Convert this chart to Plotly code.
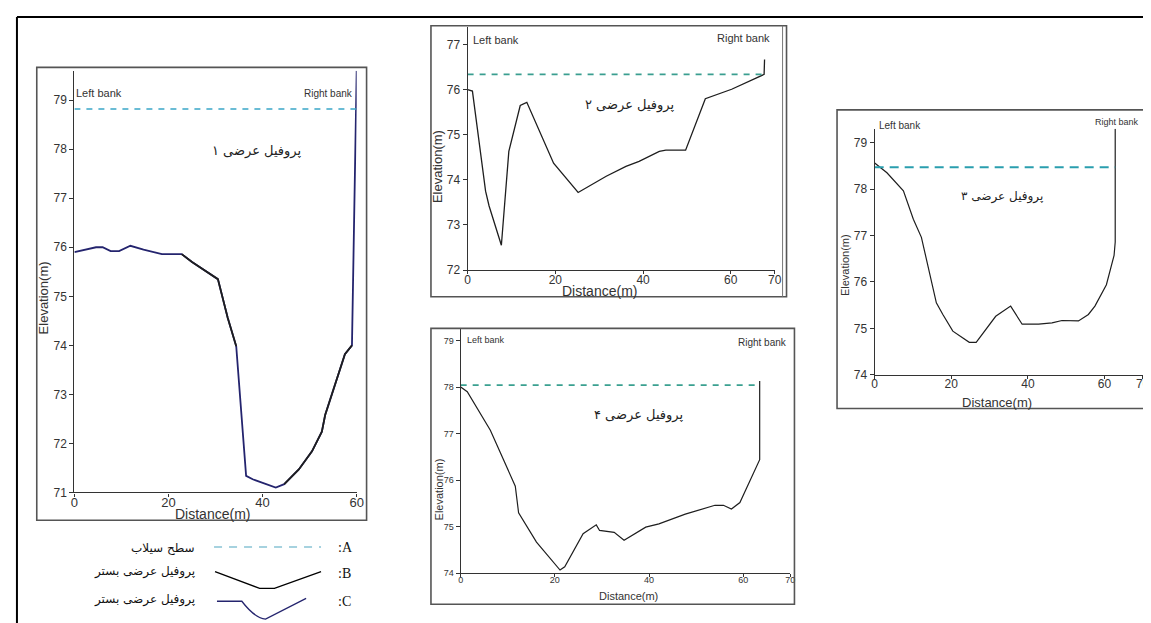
import plotly.graph_objects as go

W, H = 1151, 623

# ---------------- data ----------------
p1_dist = [0, 4.6, 6, 7.7, 9.5, 11.9, 14.7, 18.6, 22.8, 25, 30.5, 32.6, 34.4, 35.4, 36.5, 37.9, 42.8, 44.6, 47.7, 50.5, 52.6, 53.3, 57.5, 59, 60]
p1_elev = [75.9, 76.0, 76.0, 75.92, 75.92, 76.03, 75.95, 75.86, 75.86, 75.7, 75.35, 74.56, 73.98, 72.8, 71.34, 71.27, 71.1, 71.17, 71.47, 71.84, 72.24, 72.58, 73.82, 74.0, 79.6]
p1_flood = 78.82

p2_dist = [0, 1.1, 4.1, 4.9, 7.7, 9.4, 12.0, 13.5, 19.6, 25.2, 31.6, 36.1, 39.1, 43.7, 45.2, 49.7, 54.2, 60.2, 67.6, 67.7]
p2_elev = [76.0, 75.97, 73.75, 73.42, 72.55, 74.63, 75.65, 75.72, 74.37, 73.72, 74.08, 74.3, 74.41, 74.63, 74.66, 74.66, 75.8, 76.01, 76.34, 76.67]
p2_flood = 76.34

p3_dist = [0, 3.2, 7.5, 10.1, 12.2, 16.1, 17.8, 20.4, 24.7, 26.5, 31.6, 35.5, 38.5, 42.8, 46.3, 48.9, 53.2, 55.8, 57.5, 60.5, 62.5, 62.8, 62.8]
p3_elev = [78.56, 78.35, 77.96, 77.35, 76.96, 75.55, 75.3, 74.94, 74.7, 74.7, 75.26, 75.48, 75.09, 75.09, 75.12, 75.17, 75.16, 75.3, 75.48, 75.94, 76.57, 76.86, 79.3]
p3_flood = 78.47

p4_dist = [0, 1.4, 6.3, 11.6, 12.3, 16.1, 21.1, 22.1, 26, 28.8, 29.5, 32.6, 34.7, 39.3, 42.1, 47.7, 54.0, 55.8, 57.5, 59.3, 63.5, 63.5]
p4_elev = [78.0, 77.9, 77.07, 75.87, 75.3, 74.67, 74.07, 74.14, 74.85, 75.04, 74.92, 74.88, 74.71, 74.99, 75.06, 75.27, 75.46, 75.46, 75.38, 75.52, 76.44, 78.13]
p4_flood = 78.04

titles = ["پروفیل عرضی ۱", "پروفیل عرضی ۲", "پروفیل عرضی ۳", "پروفیل عرضی ۴"]
legend_labels = ["سطح سیلاب", "پروفیل عرضی بستر", "پروفیل عرضی بستر"]
legend_keys = [":A", ":B", ":C"]

# ---------------- helpers ----------------
def X(px):
    return px / W

def Y(py):
    return 1 - py / H

fig = go.Figure()

NAVY = "#24246e"
BLACK = "#1e1e1e"

# panel 1 profile: navy base with black overlay segments
fig.add_trace(go.Scatter(x=p1_dist, y=p1_elev, mode="lines", line=dict(color=NAVY, width=1.8),
                         xaxis="x", yaxis="y", showlegend=False, hoverinfo="skip"))
for a, b in [(8, 13), (17, 24)]:
    fig.add_trace(go.Scatter(x=p1_dist[a:b], y=p1_elev[a:b], mode="lines", line=dict(color=BLACK, width=1.8),
                             xaxis="x", yaxis="y", showlegend=False, hoverinfo="skip"))
fig.add_trace(go.Scatter(x=[p1_dist[0], p1_dist[-1]], y=[p1_flood, p1_flood], mode="lines",
                         line=dict(color="#3aa6c8", width=1.6, dash="6px,6px"),
                         xaxis="x", yaxis="y", showlegend=False, hoverinfo="skip"))

# panel 2
fig.add_trace(go.Scatter(x=p2_dist, y=p2_elev, mode="lines", line=dict(color=BLACK, width=1.3),
                         xaxis="x2", yaxis="y2", showlegend=False, hoverinfo="skip"))
fig.add_trace(go.Scatter(x=[0, p2_dist[-2]], y=[p2_flood, p2_flood], mode="lines",
                         line=dict(color="#3a9e90", width=1.6, dash="6px,6px"),
                         xaxis="x2", yaxis="y2", showlegend=False, hoverinfo="skip"))

# panel 3
fig.add_trace(go.Scatter(x=p3_dist, y=p3_elev, mode="lines", line=dict(color=BLACK, width=1.2),
                         xaxis="x3", yaxis="y3", showlegend=False, hoverinfo="skip"))
fig.add_trace(go.Scatter(x=[0, p3_dist[-1]], y=[p3_flood, p3_flood], mode="lines",
                         line=dict(color="#2a9eae", width=2, dash="9px,6px"),
                         xaxis="x3", yaxis="y3", showlegend=False, hoverinfo="skip"))

# panel 4
fig.add_trace(go.Scatter(x=p4_dist, y=p4_elev, mode="lines", line=dict(color=BLACK, width=1.2),
                         xaxis="x4", yaxis="y4", showlegend=False, hoverinfo="skip"))
fig.add_trace(go.Scatter(x=[0, p4_dist[-1]], y=[p4_flood, p4_flood], mode="lines",
                         line=dict(color="#3aa090", width=1.6, dash="6px,6px"),
                         xaxis="x4", yaxis="y4", showlegend=False, hoverinfo="skip"))

def ax(domain, rng, tickvals, size, anchor, is_x):
    d = dict(domain=domain, range=rng, tickvals=tickvals, showline=True, linecolor="#333",
             linewidth=1.2, ticks="outside", ticklen=3 if is_x else 4, tickcolor="#333", showgrid=False,
             zeroline=False, anchor=anchor,
             tickfont=dict(family="Liberation Sans, Arial", size=size, color="#333"))
    if is_x:
        d["ticklabelstandoff"] = -5
    return d

layout = dict(
    width=W, height=H, margin=dict(l=0, r=0, t=0, b=0),
    paper_bgcolor="white", plot_bgcolor="white", showlegend=False,
    xaxis=ax([X(63), X(348)], [0, 60], [0, 20, 40, 60], 13, "y", True),
    yaxis=ax([Y(490), Y(63.4)], [71, 79.6], [71, 72, 73, 74, 75, 76, 77, 78, 79], 12, "x", False),
    xaxis2=ax([X(460), X(770)], [0, 70], [0, 20, 40, 60, 70], 12, "y2", True),
    yaxis2=ax([Y(265), Y(18.8)], [72, 77.4], [72, 73, 74, 75, 76, 77], 12, "x2", False),
    xaxis3=ax([X(871), X(1141.7)], [0, 70], [0, 20, 40, 60, 70], 12, "y3", True),
    yaxis3=ax([Y(371), Y(122)], [74, 79.3], [74, 75, 76, 77, 78, 79], 12, "x3", False),
    xaxis4=ax([X(453), X(785.8)], [0, 70], [0, 20, 40, 60, 70], 9, "y4", True),
    yaxis4=ax([Y(571.7), Y(323.5)], [74, 79.27], [74, 75, 76, 77, 78, 79], 9, "x4", False),
)
fig.update_layout(**layout)

shapes = []
# outer frame
shapes.append(dict(type="line", xref="paper", yref="paper", x0=X(5), x1=1, y0=Y(9), y1=Y(9),
                   line=dict(color="black", width=2)))
shapes.append(dict(type="line", xref="paper", yref="paper", x0=X(5), x1=X(5), y0=Y(9), y1=0,
                   line=dict(color="black", width=2)))
# panel boxes
for (l, t, r, b) in [(25, 60, 358, 518), (423, 18, 782, 292), (833, 103, 1145, 405), (423, 324, 790, 603)]:
    shapes.append(dict(type="rect", xref="paper", yref="paper", x0=X(l), x1=X(r), y0=Y(b), y1=Y(t),
                       line=dict(color="#555", width=1.6)))
shapes.append(dict(type="line", xref="paper", yref="paper", x0=X(778), x1=X(778), y0=Y(292), y1=Y(18),
                   line=dict(color="#777", width=1)))
# legend glyphs
shapes.append(dict(type="line", xref="paper", yref="paper", x0=X(204), x1=X(312), y0=Y(545), y1=Y(545),
                   line=dict(color="#a6d2df", width=2, dash="8px,7px")))
path_b = "M {:.4f},{:.4f} L {:.4f},{:.4f} L {:.4f},{:.4f} L {:.4f},{:.4f}".format(
    X(205), Y(570), X(250), Y(587), X(265), Y(587), X(312), Y(570))
shapes.append(dict(type="path", xref="paper", yref="paper", path=path_b, line=dict(color="black", width=1.3)))
path_c = "M {:.4f},{:.4f} L {:.4f},{:.4f} Q {:.4f},{:.4f} {:.4f},{:.4f} L {:.4f},{:.4f}".format(
    X(207), Y(600), X(232), Y(600), X(245), Y(617), X(256), Y(618), X(297), Y(597))
shapes.append(dict(type="path", xref="paper", yref="paper", path=path_c, line=dict(color=NAVY, width=1.3)))
fig.update_layout(shapes=shapes)

ann = []
def txt(text, px, py, size, xa="center", ya="middle", angle=0, family="Liberation Sans, Arial", color="#333"):
    ann.append(dict(text=text, x=X(px), y=Y(py), xref="paper", yref="paper", showarrow=False,
                    xanchor=xa, yanchor=ya, textangle=angle, font=dict(family=family, size=size, color=color)))

# axis titles
txt("Elevation(m)", 32, 293, 13, angle=-90)
txt("Distance(m)", 202, 512, 14)
txt("Elevation(m)", 429, 160, 13, angle=-90)
txt("Distance(m)", 593, 286, 14)
txt("Elevation(m)", 841, 260, 11, angle=-90)
txt("Distance(m)", 995, 399, 13)
txt("Elevation(m)", 431, 487, 11, angle=-90)
txt("Distance(m)", 622, 595, 11)
# banks
txt("Left bank", 63, 86, 11, xa="left")
txt("Right bank", 346, 86, 10, xa="right")
txt("Left bank", 463, 32, 11, xa="left")
txt("Right bank", 767, 30, 11, xa="right")
txt("Left bank", 873, 119, 10, xa="left")
txt("Right bank", 1140, 115, 9, xa="right")
txt("Left bank", 457, 336, 9, xa="left")
txt("Right bank", 785, 338, 10, xa="right")
# persian titles
ser = "DejaVu Sans"
txt(titles[0], 247, 145, 13, family=ser, color="#222")
txt(titles[1], 623, 98, 13, family=ser, color="#222")
txt(titles[2], 1000, 191, 12, family=ser, color="#222")
txt(titles[3], 633, 412, 13, family=ser, color="#222")
# legend text
for i, py in enumerate([546, 572, 600]):
    txt(legend_keys[i], 327, py, 14, xa="left", family="Liberation Serif", color="#111")
    txt(legend_labels[i], 187, py - (2 if i else 0), 12, xa="right", family=ser, color="#111")
fig.update_layout(annotations=ann)

fig.write_html("out.html")
